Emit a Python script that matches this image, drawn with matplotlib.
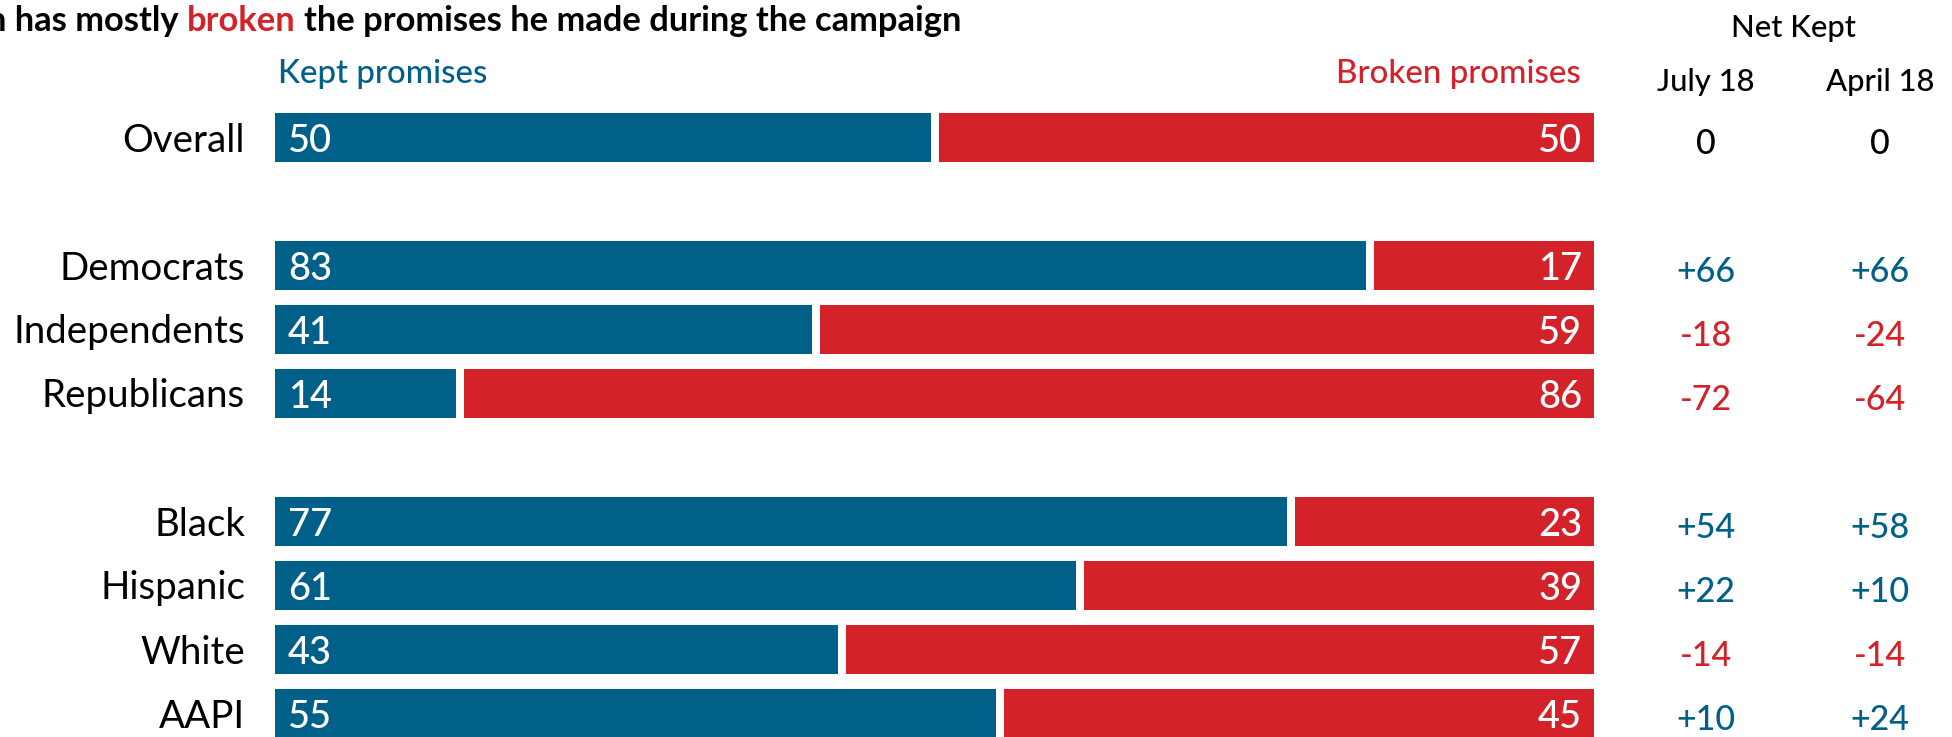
import matplotlib
matplotlib.use("Agg")
import matplotlib.pyplot as plt

# ---------------- data ----------------
groups = [
    ["Overall"],
    ["Democrats", "Independents", "Republicans"],
    ["Black", "Hispanic", "White", "AAPI"],
]
kept = [50, 83, 41, 14, 77, 61, 43, 55]
broken = [50, 17, 59, 86, 23, 39, 57, 45]
net_july = [0, 66, -18, -72, 54, 22, -14, 10]
net_april = [0, 66, -24, -64, 58, 10, -14, 24]
col_headers = ["July 18", "April 18"]
title_parts = ["n has mostly", "broken", "the promises he made during the campaign"]

BLUE = "#01608A"
RED = "#D32229"

W, H, DPI = 1952, 737, 100
def pt(px):
    return px * 72.0 / DPI

plt.rcParams["font.family"] = ["Lato", "DejaVu Sans"]

fig = plt.figure(figsize=(W / DPI, H / DPI), dpi=DPI)
fig.patch.set_facecolor("white")

# axes geometry in pixels
left_px, width_px = 275, 1319
pitch = 64
top_px = 105.5
n_rows = 10
ax = fig.add_axes([left_px / W, (H - (top_px + n_rows * pitch)) / H,
                   width_px / W, n_rows * pitch / H])
ax.set_xlim(0, 100)
ax.set_ylim(n_rows - 0.5, -0.5)
ax.axis("off")

def y_of(px):
    return (px - top_px) / pitch - 0.5

def x_of(px):
    return (px - left_px) / width_px * 100

# row positions
cats, rows = [], []
r = 0
for g in groups:
    for c in g:
        cats.append(c)
        rows.append(r)
        r += 1
    r += 1

bh = 49 / pitch
ax.barh(rows, kept, height=bh, color=BLUE, linewidth=0)
ax.barh(rows, broken, left=kept, height=bh, color=RED, linewidth=0)
ax.vlines(kept, [y - bh / 2 - 0.01 for y in rows], [y + bh / 2 + 0.01 for y in rows],
          colors="white", linewidth=pt(8))

lab_fs = pt(38.5)
num_fs = pt(38)
net_fs = pt(34)
hdr_fs = pt(33)
col_fs = pt(31)
MED = "medium"

for c, y, k, b, nj, na in zip(cats, rows, kept, broken, net_july, net_april):
    ax.text(x_of(245), y + 14 / pitch, c, ha="right", va="baseline",
            fontsize=lab_fs, color="black", clip_on=False)
    ax.text(x_of(288), y + 14 / pitch, str(k), ha="left", va="baseline",
            fontsize=num_fs, color="white", fontweight=MED)
    ax.text(x_of(1582), y + 14 / pitch, str(b), ha="right", va="baseline",
            fontsize=num_fs, color="white", fontweight=MED)
    for v, xp in ((nj, 1706), (na, 1880)):
        col = BLUE if v > 0 else (RED if v < 0 else "black")
        s = f"+{v}" if v > 0 else str(v)
        ax.text(x_of(xp), y + 16 / pitch, s, ha="center", va="baseline",
                fontsize=net_fs, color=col, clip_on=False, fontweight=MED)

ax.text(x_of(278), y_of(83), "Kept promises", ha="left", va="baseline",
        fontsize=hdr_fs, color=BLUE, clip_on=False, fontweight=MED)
ax.text(x_of(1581), y_of(83), "Broken promises", ha="right", va="baseline",
        fontsize=hdr_fs, color=RED, clip_on=False, fontweight=MED)
ax.text(x_of(1793), y_of(37), "Net Kept", ha="center", va="baseline",
        fontsize=col_fs, color="black", clip_on=False, fontweight=MED)
for h, xp in zip(col_headers, (1706, 1880)):
    ax.text(x_of(xp), y_of(91), h, ha="center", va="baseline",
            fontsize=col_fs, color="black", clip_on=False, fontweight=MED)

# title, chained pieces
renderer = fig.canvas.get_renderer()
tfs = pt(34.5)
def width_px_of(s):
    t = fig.text(0, 0, s, fontsize=tfs, fontweight="bold")
    w = t.get_window_extent(renderer).width
    t.remove()
    return w
space = width_px_of("a a") - width_px_of("aa")
x = 15 - width_px_of("n") - space
base_y = (H - 31) / H
for part, col in zip(title_parts, ["black", RED, "black"]):
    t = fig.text(x / W, base_y, part, fontsize=tfs, fontweight="bold",
                 color=col, ha="left", va="baseline")
    x += t.get_window_extent(renderer).width + space

fig.savefig("out.png", dpi=DPI, facecolor="white")
